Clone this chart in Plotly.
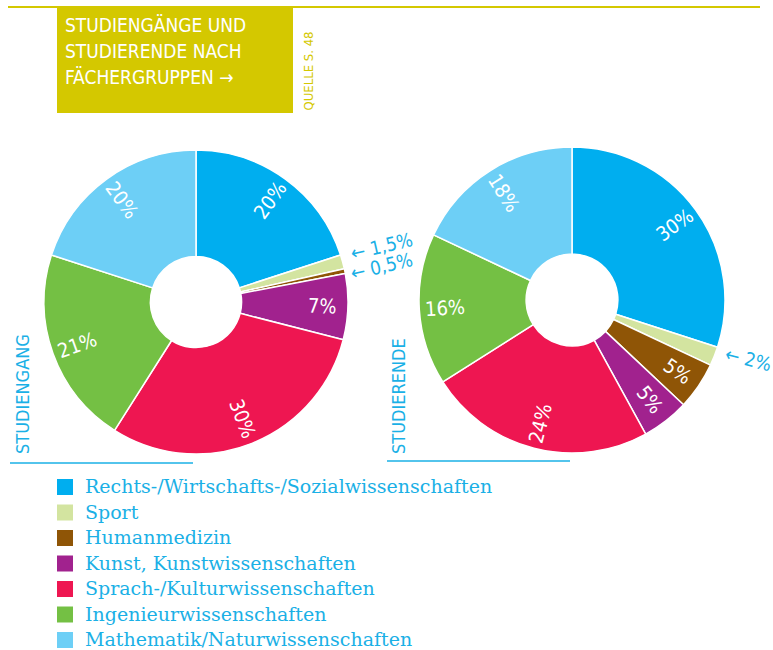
import math
import plotly.graph_objects as go

W, H = 773, 650

categories = [
    "Rechts-/Wirtschafts-/Sozialwissenschaften",
    "Sport",
    "Humanmedizin",
    "Kunst, Kunstwissenschaften",
    "Sprach-/Kulturwissenschaften",
    "Ingenieurwissenschaften",
    "Mathematik/Naturwissenschaften",
]
colors = ["#00aeef", "#d3e4a0", "#8f5506", "#a1228e", "#ee1651", "#74c044", "#6dcff6"]

studiengang = [20, 1.5, 0.5, 7, 30, 21, 20]
studierende = [30, 2, 5, 5, 24, 16, 18]

studiengang_inside = [True, False, False, True, True, True, True]
studierende_inside = [True, False, True, True, True, True, True]

title_lines = ["STUDIENGÄNGE UND", "STUDIERENDE NACH", "FÄCHERGRUPPEN →"]
source_text = "QUELLE S. 48"
panel_titles = ["STUDIENGANG", "STUDIERENDE"]

YELLOW = "#d4c800"
BLUE = "#1ab0e6"
COND = "DejaVu Sans Condensed, Roboto, sans-serif"


def fmt(v):
    s = f"{v:g}".replace(".", ",")
    return s + "%"


def px(x):
    return x / W


def py(y):
    return 1 - y / H


fig = go.Figure()
shapes = []
annotations = []

pies = [
    (studiengang, studiengang_inside, (44, 348, 150, 454)),
    (studierende, studierende_inside, (419, 725, 147, 453)),
]

for vals, inside, (x0, x1, y0, y1) in pies:
    fig.add_trace(go.Pie(
        labels=categories,
        values=vals,
        textinfo="none",
        hoverinfo="label+value",
        sort=False,
        direction="clockwise",
        rotation=0,
        hole=0.30,
        marker=dict(colors=colors, line=dict(color="white", width=1.5)),
        domain=dict(x=[px(x0), px(x1)], y=[py(y1), py(y0)]),
        showlegend=False,
    ))
    # radial percentage labels placed from the slice angles
    cx, cy = (x0 + x1) / 2, (y0 + y1) / 2
    R = min(x1 - x0, y1 - y0) / 2
    total = sum(vals)
    cum = 0
    for v, ins in zip(vals, inside):
        mid = (cum + v / 2) / total * 360
        cum += v
        if not ins:
            continue
        rad = math.radians(mid)
        rr = 0.83 * R
        tx = cx + rr * math.sin(rad)
        ty = cy - rr * math.cos(rad)
        rot = mid - 90
        while rot > 90:
            rot -= 180
        while rot <= -90:
            rot += 180
        annotations.append(dict(text=fmt(v), xref="paper", yref="paper", x=px(tx), y=py(ty),
                                xanchor="center", yanchor="middle", textangle=rot, showarrow=False,
                                font=dict(color="white", size=20, family=COND)))

# top rule and title box
shapes.append(dict(type="line", xref="paper", yref="paper", x0=px(8), x1=px(760), y0=py(7), y1=py(7),
                   line=dict(color=YELLOW, width=2)))
shapes.append(dict(type="rect", xref="paper", yref="paper", x0=px(57), x1=px(293), y0=py(113), y1=py(6),
                   fillcolor=YELLOW, line=dict(width=0)))
for i, t in enumerate(title_lines):
    annotations.append(dict(text=t, xref="paper", yref="paper", x=px(63), y=py(25 + i * 26),
                            xanchor="left", yanchor="middle", showarrow=False,
                            font=dict(color="white", size=19, family=COND)))
annotations.append(dict(text=source_text, xref="paper", yref="paper", x=px(308), y=py(113),
                        xanchor="center", yanchor="bottom", textangle=-90, showarrow=False,
                        font=dict(color=YELLOW, size=13, family=COND)))

# panel titles + underline
for t, xt, (lx0, lx1, ly) in zip(panel_titles, [22, 398], [(10, 193, 463), (387, 570, 461)]):
    annotations.append(dict(text=t, xref="paper", yref="paper", x=px(xt), y=py(456),
                            xanchor="center", yanchor="bottom", textangle=-90, showarrow=False,
                            font=dict(color=BLUE, size=18, family=COND)))
    shapes.append(dict(type="line", xref="paper", yref="paper", x0=px(lx0), x1=px(lx1), y0=py(ly), y1=py(ly),
                       line=dict(color=BLUE, width=1.5)))

# outside labels for small slices
outside = [
    ("← " + fmt(studiengang[1]), 346, 246, -13),
    ("← " + fmt(studiengang[2]), 346, 266, -13),
    ("← " + fmt(studierende[1]), 721, 359, 14),
]
for t, x, y, ang in outside:
    annotations.append(dict(text=t, xref="paper", yref="paper", x=px(x), y=py(y),
                            xanchor="left", yanchor="middle", textangle=ang, showarrow=False,
                            font=dict(color=BLUE, size=19, family=COND)))

# legend
for i, (c, col) in enumerate(zip(categories, colors)):
    yc = 487 + i * 25.5
    shapes.append(dict(type="rect", xref="paper", yref="paper", x0=px(57), x1=px(73),
                       y0=py(yc + 8), y1=py(yc - 8), fillcolor=col, line=dict(width=0)))
    annotations.append(dict(text=c, xref="paper", yref="paper", x=px(83), y=py(yc - 1),
                            xanchor="left", yanchor="middle", showarrow=False,
                            font=dict(color=BLUE, size=19, family="DejaVu Serif, serif")))

fig.update_layout(
    width=W, height=H,
    margin=dict(l=0, r=0, t=0, b=0),
    paper_bgcolor="white", plot_bgcolor="white",
    shapes=shapes, annotations=annotations,
)

fig.write_html("out.html", config={"displayModeBar": False},
               post_script="document.body.style.margin='0';")
